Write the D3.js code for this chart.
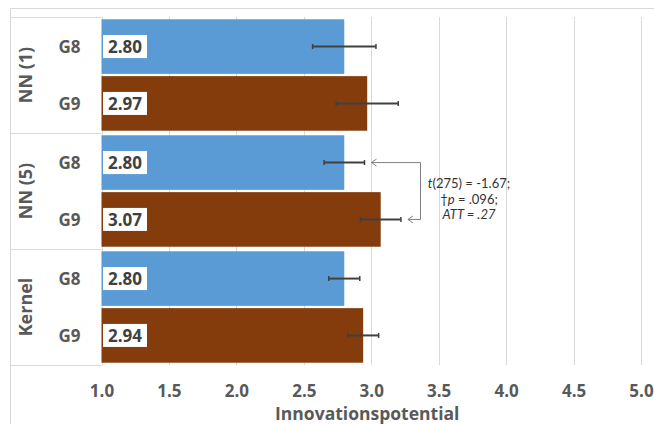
<!DOCTYPE html>
<html>
<head>
<meta charset="utf-8">
<script src="https://cdn.jsdelivr.net/npm/d3@7"></script>
<style>
  html, body { margin: 0; padding: 0; background: #fff; }
  svg { display: block; font-family: "Open Sans", Lato, sans-serif; }
</style>
</head>
<body>
<svg id="chart" width="654" height="424"></svg>
<script>
// Matching methods (groups) and cohorts (series)
const groups = ["NN (1)", "NN (5)", "Kernel"];
const series = ["G8", "G9"];
const valuesG8 = [2.80, 2.80, 2.80];
const valuesG9 = [2.97, 3.07, 2.94];
const errorsG8 = [0.235, 0.15, 0.115];
const errorsG9 = [0.23, 0.15, 0.115];
const xTicks = [1.0, 1.5, 2.0, 2.5, 3.0, 3.5, 4.0, 4.5, 5.0];
const axisTitle = "Innovationspotential";
const colors = { G8: "#5B9BD5", G9: "#843C0C" };

const rows = [];
groups.forEach((g, i) => {
  rows.push({ group: g, series: "G8", value: valuesG8[i], err: errorsG8[i] });
  rows.push({ group: g, series: "G9", value: valuesG9[i], err: errorsG9[i] });
});

const svg = d3.select("#chart");
const plot = { left: 101.5, right: 641, top: 17, bottom: 365 };
const labelFont = "'Open Sans', Lato, sans-serif";

const x = d3.scaleLinear().domain([1, 5]).range([plot.left, plot.right]);
const yGroup = d3.scaleBand().domain(groups).range([plot.top, plot.bottom]).padding(0);
const ySeries = d3.scaleBand().domain(series).range([0, yGroup.bandwidth()]).padding(0.04);

// Chart frame
svg.append("path")
  .attr("d", `M10.5,424 V8.5 H654`)
  .attr("fill", "none").attr("stroke", "#D9D9D9").attr("stroke-width", 1);

// Vertical gridlines
svg.append("g").selectAll("line")
  .data(xTicks.filter(t => t > 1))
  .join("line")
  .attr("x1", d => Math.round(x(d)) + 0.5).attr("x2", d => Math.round(x(d)) + 0.5)
  .attr("y1", plot.top).attr("y2", plot.bottom)
  .attr("stroke", "#D9D9D9").attr("stroke-width", 1);

// Group separator lines in the category axis area
svg.append("g").selectAll("line")
  .data(groups.map(g => yGroup(g)).concat([plot.bottom]))
  .join("line")
  .attr("x1", 10.5).attr("x2", plot.left)
  .attr("y1", d => Math.round(d) + 0.5).attr("y2", d => Math.round(d) + 0.5)
  .attr("stroke", "#D9D9D9").attr("stroke-width", 1);

// Category axis line
svg.append("line")
  .attr("x1", Math.round(plot.left) + 0.5).attr("x2", Math.round(plot.left) + 0.5)
  .attr("y1", plot.top).attr("y2", plot.bottom)
  .attr("stroke", "#D9D9D9");

const barY = d => yGroup(d.group) + ySeries(d.series);
const barH = ySeries.bandwidth();

// Bars
svg.append("g").selectAll("rect")
  .data(rows)
  .join("rect")
  .attr("x", x(1))
  .attr("y", barY)
  .attr("width", d => x(d.value) - x(1))
  .attr("height", barH)
  .attr("fill", d => colors[d.series]);

// Error bars
const eb = svg.append("g").attr("stroke", "#404040").attr("stroke-width", 2);
rows.forEach(d => {
  const cy = barY(d) + barH / 2;
  eb.append("line").attr("x1", x(d.value - d.err)).attr("x2", x(d.value + d.err)).attr("y1", cy).attr("y2", cy);
  eb.append("line").attr("x1", x(d.value + d.err)).attr("x2", x(d.value + d.err)).attr("y1", cy - 2.5).attr("y2", cy + 2.5).attr("stroke-width", 1.5);
  eb.append("line").attr("x1", x(d.value - d.err)).attr("x2", x(d.value - d.err)).attr("y1", cy - 2.5).attr("y2", cy + 2.5).attr("stroke-width", 1.5);
});

// Value labels in white boxes
const lab = svg.append("g").selectAll("g").data(rows).join("g")
  .attr("transform", d => `translate(${x(1) + 1.5},${barY(d) + barH / 2})`);
lab.append("rect").attr("x", 0).attr("y", -11.5).attr("width", 44).attr("height", 23).attr("fill", "#fff");
lab.append("text").attr("x", 22).attr("y", 0).attr("dy", "0.36em")
  .attr("text-anchor", "middle").attr("font-size", 17).attr("font-weight", "bold")
  .attr("fill", "#404040").text(d => d.value.toFixed(2));

// Series labels
svg.append("g").selectAll("text").data(rows).join("text")
  .attr("x", 69.5).attr("y", d => barY(d) + barH / 2).attr("dy", "0.36em")
  .attr("text-anchor", "middle").attr("font-size", 17).attr("font-weight", "bold")
  .attr("fill", "#595959").text(d => d.series);

// Group labels (rotated)
svg.append("g").selectAll("text").data(groups).join("text")
  .attr("transform", g => `translate(26,${yGroup(g) + yGroup.bandwidth() / 2}) rotate(-90)`)
  .attr("dy", "0.36em").attr("text-anchor", "middle")
  .attr("font-size", 18).attr("font-weight", "bold").attr("fill", "#595959")
  .text(g => g);

// Value axis
const xAxis = d3.axisBottom(x).tickValues(xTicks).tickFormat(d3.format(".1f")).tickSize(0).tickPadding(0);
const ax = svg.append("g").attr("transform", `translate(0,${plot.bottom})`).call(xAxis);
ax.select(".domain").remove();
ax.selectAll("text").attr("y", 32).attr("dy", 0).attr("font-size", 17).attr("font-weight", "bold")
  .attr("fill", "#595959").attr("font-family", labelFont);

svg.append("text").attr("x", (x(1) + x(5)) / 2 - 4).attr("y", 419.5).attr("text-anchor", "middle")
  .attr("font-size", 17.5).attr("font-weight", "bold").attr("fill", "#595959").text(axisTitle);

// Significance bracket between NN (5) G8 and G9
const nn5 = groups[1];
const yA = yGroup(nn5) + ySeries("G8") + barH / 2;
const yB = yGroup(nn5) + ySeries("G9") + barH / 2;
const xA = x(valuesG8[1] + errorsG8[1]) + 7;
const xB = x(valuesG9[1] + errorsG9[1]) + 7;
const xR = 420.5;
const br = svg.append("g").attr("stroke", "#7F7F7F").attr("fill", "none").attr("stroke-width", 1);
br.append("path").attr("d", `M${xA},${yA} H${xR} V${yB} H${xB}`);
br.append("path").attr("d", `M${xA + 5},${yA - 3.5} L${xA},${yA} L${xA + 5},${yA + 3.5}`);
br.append("path").attr("d", `M${xB + 5},${yB - 3.5} L${xB},${yB} L${xB + 5},${yB + 3.5}`);

const ann = svg.append("text").attr("text-anchor", "middle").attr("font-size", 13)
  .attr("fill", "#333").attr("font-family", "Lato, 'Open Sans', sans-serif");
const l1 = ann.append("tspan").attr("x", 469).attr("y", 188);
l1.append("tspan").attr("font-style", "italic").text("t");
l1.append("tspan").text("(275) = -1.67;");
const l2 = ann.append("tspan").attr("x", 469).attr("y", 204);
l2.append("tspan").text("†");
l2.append("tspan").attr("font-style", "italic").text("p");
l2.append("tspan").text(" = .096;");
ann.append("tspan").attr("x", 469).attr("y", 219).attr("font-style", "italic").text("ATT = .27");
</script>
</body>
</html>
